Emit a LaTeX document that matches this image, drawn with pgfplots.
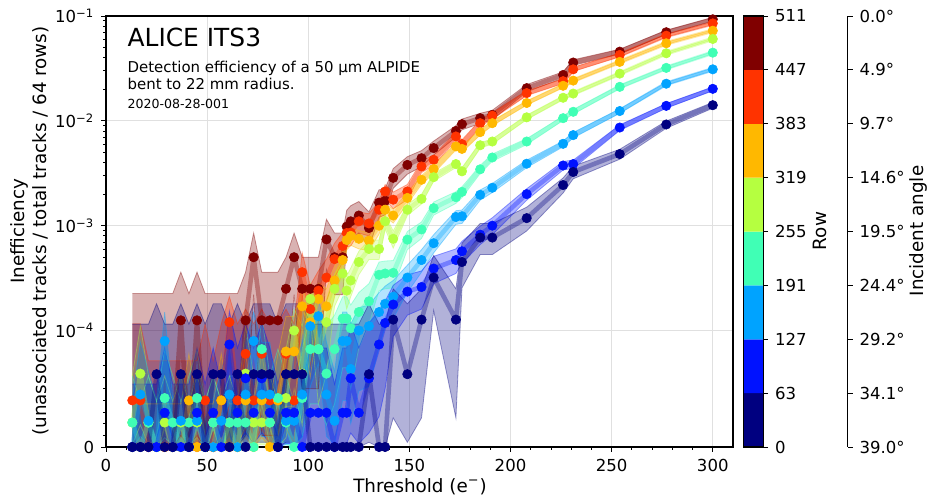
\documentclass[border=0pt]{standalone}
\usepackage{fontspec}
\setmainfont{DejaVu Sans}
\usepackage{pgfplots}
\usepackage{pgfplotstable}
\pgfplotsset{compat=1.18}
\usepgfplotslibrary{fillbetween}

\definecolor{cA}{rgb}{0,0,0.5}
\definecolor{cB}{rgb}{0,0.07,1}
\definecolor{cC}{rgb}{0,0.64,1}
\definecolor{cD}{rgb}{0.25,1,0.71}
\definecolor{cE}{rgb}{0.71,1,0.25}
\definecolor{cF}{rgb}{1,0.72,0}
\definecolor{cG}{rgb}{1,0.2,0}
\definecolor{cH}{rgb}{0.5,0,0}

% rows 447-511
\pgfplotstableread{
x y lo hi
13 0 0 2.25e-4
17 0 0 2.25e-4
21 0 0 2.25e-4
25 0 0 2.25e-4
29 0 0 2.25e-4
33 0 0 2.25e-4
37 1.25e-4 1e-5 3.6e-4
41 0 0 2.25e-4
45 1.25e-4 1e-5 3.6e-4
49 0 0 2.25e-4
53 0 0 2.25e-4
57 0 0 2.25e-4
61 0 0 2.25e-4
65 0 0 2.25e-4
69 1.25e-4 1e-5 3.6e-4
73 5e-4 2.2e-4 8.5e-4
77 1.25e-4 1e-5 3.6e-4
81 1.25e-4 1e-5 3.6e-4
85 1.25e-4 1e-5 3.6e-4
89 2.5e-4 5e-5 5e-4
93 5e-4 2.2e-4 8.5e-4
97 2.5e-4 5e-5 5e-4
101 2.5e-4 5e-5 5e-4
105 2.5e-4 5e-5 5e-4
109 7.4e-4 3.8e-4 1.15e-3
113 5e-4 2.2e-4 8.5e-4
117 5e-4 2.2e-4 8.5e-4
119 9.8e-4 6.3e-4 1.4e-3
121 1.1e-3 7.3e-4 1.55e-3
125 1.25e-3 8.5e-4 1.7e-3
130 9.5e-4 6.2e-4 1.35e-3
135 1.66e-3 1.2e-3 2.2e-3
138 1.73e-3 1.27e-3 2.25e-3
142 2.86e-3 2.27e-3 3.5e-3
149 3.8e-3 3.1e-3 4.55e-3
156 4.4e-3 3.65e-3 5.2e-3
162 5.5e-3 4.7e-3 6.4e-3
173 8.0e-3 7.0e-3 9.0e-3
176 9.3e-3 8.2e-3 1.04e-2
185 1.06e-2 9.45e-3 1.18e-2
191 1.14e-2 1.02e-2 1.26e-2
208 2.05e-2 1.89e-2 2.22e-2
226 2.74e-2 2.55e-2 2.93e-2
231 3.6e-2 3.38e-2 3.82e-2
254 4.57e-2 4.33e-2 4.82e-2
277 7.0e-2 6.7e-2 7.3e-2
300 9.3e-2 8.93e-2 9.67e-2
}\sH

% rows 383-447
\pgfplotstableread{
x y lo hi
13 4e-5 3e-6 1.16e-4
17 4e-5 3e-6 1.16e-4
21 0 0 7.4e-5
25 0 0 7.4e-5
29 0 0 7.4e-5
33 0 0 7.4e-5
37 0 0 7.4e-5
41 0 0 7.4e-5
45 0 0 7.4e-5
49 4e-5 3e-6 1.16e-4
53 0 0 7.4e-5
57 4e-5 3e-6 1.16e-4
61 1.2e-4 3.6e-5 2.1e-4
65 4e-5 3e-6 1.16e-4
69 8e-5 1.6e-5 1.6e-4
73 4e-5 3e-6 1.16e-4
77 8e-5 1.6e-5 1.6e-4
81 4e-5 3e-6 1.16e-4
85 4e-5 3e-6 1.16e-4
89 8e-5 1.6e-5 1.6e-4
93 4e-5 3e-6 1.16e-4
97 3.6e-4 2.2e-4 5.5e-4
101 1.6e-4 7e-5 2.7e-4
105 2.4e-4 1.2e-4 3.7e-4
109 3.2e-4 1.9e-4 4.8e-4
113 4.8e-4 3.2e-4 6.8e-4
117 6.4e-4 4.5e-4 8.6e-4
119 8.5e-4 6.3e-4 1.07e-3
121 8.6e-4 6.4e-4 1.08e-3
125 1.1e-3 8.5e-4 1.35e-3
130 1.05e-3 8.0e-4 1.3e-3
135 1.42e-3 1.13e-3 1.71e-3
138 2.12e-3 1.77e-3 2.47e-3
142 1.77e-3 1.45e-3 2.09e-3
149 2.12e-3 1.77e-3 2.47e-3
156 3.67e-3 3.21e-3 4.13e-3
162 4.25e-3 3.77e-3 4.73e-3
173 7.1e-3 6.45e-3 7.75e-3
176 6.0e-3 5.4e-3 6.6e-3
185 9.5e-3 8.8e-3 1.02e-2
191 1.12e-2 1.04e-2 1.2e-2
208 1.84e-2 1.74e-2 1.94e-2
226 2.39e-2 2.27e-2 2.51e-2
231 3.1e-2 2.96e-2 3.24e-2
254 4.25e-2 4.09e-2 4.41e-2
277 6.49e-2 6.3e-2 6.68e-2
300 8.5e-2 8.27e-2 8.73e-2
}\sG

% rows 319-383
\pgfplotstableread{
x y lo hi
13 0 0 3.7e-5
17 0 0 3.7e-5
21 0 0 3.7e-5
25 0 0 3.7e-5
29 0 0 3.7e-5
33 0 0 3.7e-5
37 0 0 3.7e-5
41 4e-5 8e-6 8e-5
45 0 0 3.7e-5
49 0 0 3.7e-5
53 0 0 3.7e-5
57 4e-5 8e-6 8e-5
61 0 0 3.7e-5
65 0 0 3.7e-5
69 4e-5 8e-6 8e-5
73 0 0 3.7e-5
77 4e-5 8e-6 8e-5
81 0 0 3.7e-5
85 4e-5 8e-6 8e-5
89 8.2e-5 3.5e-5 1.36e-4
93 8.2e-5 3.5e-5 1.36e-4
97 1.7e-4 1.05e-4 2.5e-4
101 1.2e-4 6e-5 1.85e-4
105 2.0e-4 1.3e-4 2.85e-4
109 1.7e-4 1.05e-4 2.5e-4
113 3.0e-4 2.1e-4 4.1e-4
117 4.7e-4 3.6e-4 6.0e-4
119 7.3e-4 5.85e-4 8.75e-4
121 8e-4 6.5e-4 9.5e-4
125 7.5e-4 6e-4 9e-4
130 7.2e-4 5.8e-4 8.6e-4
135 1.0e-3 8.3e-4 1.17e-3
138 1.42e-3 1.22e-3 1.62e-3
142 1.25e-3 1.06e-3 1.44e-3
149 1.84e-3 1.61e-3 2.07e-3
156 2.74e-3 2.47e-3 3.01e-3
162 3.47e-3 3.15e-3 3.79e-3
173 5.7e-3 5.27e-3 6.13e-3
176 5.4e-3 5.0e-3 5.8e-3
185 7.8e-3 7.33e-3 8.27e-3
191 9.5e-3 8.98e-3 1.002e-2
208 1.48e-2 1.415e-2 1.545e-2
226 2.16e-2 2.08e-2 2.24e-2
231 2.42e-2 2.34e-2 2.5e-2
254 3.65e-2 3.55e-2 3.75e-2
277 5.49e-2 5.36e-2 5.62e-2
300 7.24e-2 7.1e-2 7.38e-2
}\sF

% rows 255-319
\pgfplotstableread{
x y lo hi
13 2.1e-5 2e-6 6.1e-5
17 6.3e-5 1.9e-5 1.1e-4
21 2.1e-5 2e-6 6.1e-5
25 0 0 3.9e-5
29 2.1e-5 2e-6 6.1e-5
33 0 0 3.9e-5
37 2.1e-5 2e-6 6.1e-5
41 0 0 3.9e-5
45 2.1e-5 2e-6 6.1e-5
49 0 0 3.9e-5
53 2.1e-5 2e-6 6.1e-5
57 0 0 3.9e-5
61 2.1e-5 2e-6 6.1e-5
65 0 0 3.9e-5
69 6.3e-5 1.9e-5 1.1e-4
73 2.1e-5 2e-6 6.1e-5
77 2.1e-5 2e-6 6.1e-5
81 2.1e-5 2e-6 6.1e-5
85 0 0 3.9e-5
89 4.2e-5 8e-6 8.4e-5
93 1e-4 5e-5 1.6e-4
97 6.3e-5 1.9e-5 1.1e-4
101 2.0e-4 1.3e-4 2.85e-4
105 8.4e-5 3.7e-5 1.4e-4
109 1.2e-4 6.3e-5 1.95e-4
113 2.5e-4 1.7e-4 3.45e-4
117 3.5e-4 2.5e-4 4.6e-4
119 2.4e-4 1.6e-4 3.3e-4
121 3.0e-4 2.1e-4 3.95e-4
125 4.5e-4 3.4e-4 5.7e-4
130 6.0e-4 4.75e-4 7.3e-4
135 6.0e-4 4.75e-4 7.3e-4
138 1.1e-3 9.3e-4 1.27e-3
142 7.5e-4 6.1e-4 8.9e-4
149 1.42e-3 1.25e-3 1.59e-3
156 1.8e-3 1.61e-3 1.99e-3
162 2.9e-3 2.65e-3 3.15e-3
173 3.87e-3 3.58e-3 4.16e-3
176 3.3e-3 3.03e-3 3.57e-3
185 5.85e-3 5.5e-3 6.2e-3
191 6.35e-3 5.99e-3 6.71e-3
208 1.08e-2 1.03e-2 1.13e-2
226 1.66e-2 1.6e-2 1.72e-2
231 1.82e-2 1.76e-2 1.88e-2
254 2.82e-2 2.74e-2 2.9e-2
277 4.41e-2 4.31e-2 4.51e-2
300 6.04e-2 5.93e-2 6.15e-2
}\sE

% rows 191-255
\pgfplotstableread{
x y lo hi
13 2.1e-5 2e-6 6.1e-5
17 0 0 3.9e-5
21 2.1e-5 2e-6 6.1e-5
25 0 0 3.9e-5
29 4.2e-5 8e-6 8.4e-5
33 2.1e-5 2e-6 6.1e-5
37 0 0 3.9e-5
41 2.1e-5 2e-6 6.1e-5
45 4.2e-5 8e-6 8.4e-5
49 0 0 3.9e-5
53 2.1e-5 2e-6 6.1e-5
57 0 0 3.9e-5
61 2.1e-5 2e-6 6.1e-5
65 2.1e-5 2e-6 6.1e-5
69 2.1e-5 2e-6 6.1e-5
73 0 0 3.9e-5
77 8.4e-5 3.7e-5 1.4e-4
81 2.1e-5 2e-6 6.1e-5
85 4.2e-5 8e-6 8.4e-5
89 2.1e-5 2e-6 6.1e-5
93 0 0 3.9e-5
97 4.2e-5 8e-6 8.4e-5
101 8.4e-5 3.7e-5 1.4e-4
105 8.4e-5 3.7e-5 1.4e-4
109 6.3e-5 1.9e-5 1.1e-4
113 8.4e-5 3.7e-5 1.4e-4
117 1.3e-4 6.8e-5 2.1e-4
119 1.3e-4 6.8e-5 2.1e-4
121 1.05e-4 5e-5 1.75e-4
125 1.5e-4 8.5e-5 2.3e-4
130 1.9e-4 1.15e-4 2.8e-4
135 3.4e-4 2.4e-4 4.5e-4
138 3.5e-4 2.5e-4 4.6e-4
142 3.55e-4 2.55e-4 4.65e-4
149 7.36e-4 5.9e-4 8.8e-4
156 9.2e-4 7.55e-4 1.085e-3
162 1.47e-3 1.26e-3 1.68e-3
173 1.87e-3 1.63e-3 2.11e-3
176 2.1e-3 1.85e-3 2.35e-3
185 3.45e-3 3.14e-3 3.76e-3
191 4.47e-3 4.11e-3 4.83e-3
208 6.35e-3 5.93e-3 6.77e-3
226 1.06e-2 1.01e-2 1.11e-2
231 1.22e-2 1.16e-2 1.28e-2
254 2.11e-2 2.03e-2 2.19e-2
277 3.2e-2 3.1e-2 3.3e-2
300 4.47e-2 4.36e-2 4.58e-2
}\sD

% rows 127-191
\pgfplotstableread{
x y lo hi
13 0 0 4.1e-5
17 4.5e-5 9e-6 9e-5
21 2.25e-5 2e-6 6.5e-5
25 0 0 4.1e-5
29 9.1e-5 4e-5 1.5e-4
33 0 0 4.1e-5
37 2.25e-5 2e-6 6.5e-5
41 0 0 4.1e-5
45 2.25e-5 2e-6 6.5e-5
49 0 0 4.1e-5
53 0 0 4.1e-5
57 2.25e-5 2e-6 6.5e-5
61 4.5e-5 9e-6 9e-5
65 0 0 4.1e-5
69 4.5e-5 9e-6 9e-5
73 9.1e-5 4e-5 1.5e-4
77 4.5e-5 9e-6 9e-5
81 4.5e-5 9e-6 9e-5
85 0 0 4.1e-5
89 2.25e-5 2e-6 6.5e-5
93 2.25e-5 2e-6 6.5e-5
97 4.5e-5 9e-6 9e-5
101 1.1e-4 5.2e-5 1.75e-4
105 1.37e-4 7.2e-5 2.15e-4
109 4.5e-5 9e-6 9e-5
113 2.25e-5 2e-6 6.5e-5
117 9.1e-5 4e-5 1.5e-4
119 9.1e-5 4e-5 1.5e-4
121 6.7e-5 2e-5 1.15e-4
125 1.0e-4 4.8e-5 1.65e-4
130 1.1e-4 5.2e-5 1.75e-4
135 1.5e-4 8.5e-5 2.3e-4
138 1.8e-4 1.08e-4 2.65e-4
142 2.1e-4 1.3e-4 3.0e-4
149 3.2e-4 2.3e-4 4.2e-4
156 4.7e-4 3.6e-4 5.9e-4
162 6.8e-4 5.5e-4 8.2e-4
173 1.21e-3 1.03e-3 1.39e-3
176 1.23e-3 1.05e-3 1.41e-3
185 1.97e-3 1.75e-3 2.19e-3
191 2.3e-3 2.07e-3 2.53e-3
208 3.9e-3 3.58e-3 4.22e-3
226 6.04e-3 5.65e-3 6.43e-3
231 7.31e-3 6.87e-3 7.75e-3
254 1.24e-2 1.18e-2 1.3e-2
277 2.26e-2 2.19e-2 2.33e-2
300 3.1e-2 3.01e-2 3.19e-2
}\sC

% rows 63-127
\pgfplotstableread{
x y lo hi
13 0 0 5.4e-5
17 0 0 5.4e-5
21 0 0 5.4e-5
25 0 0 5.4e-5
29 2.94e-5 3e-6 8.5e-5
33 0 0 5.4e-5
37 0 0 5.4e-5
41 0 0 5.4e-5
45 2.94e-5 3e-6 8.5e-5
49 0 0 5.4e-5
53 2.94e-5 3e-6 8.5e-5
57 0 0 5.4e-5
61 8.8e-5 2.6e-5 1.53e-4
65 2.94e-5 3e-6 8.5e-5
69 5.9e-5 1.2e-5 1.18e-4
73 2.94e-5 3e-6 8.5e-5
77 5.9e-5 1.2e-5 1.18e-4
81 2.94e-5 3e-6 8.5e-5
85 0 0 5.4e-5
89 2.94e-5 3e-6 8.5e-5
93 2.94e-5 3e-6 8.5e-5
97 0 0 5.4e-5
101 2.94e-5 3e-6 8.5e-5
105 2.94e-5 3e-6 8.5e-5
109 2.94e-5 3e-6 8.5e-5
113 0 0 5.4e-5
117 2.94e-5 3e-6 8.5e-5
119 2.94e-5 3e-6 8.5e-5
121 5.9e-5 1.2e-5 1.18e-4
125 2.94e-5 3e-6 8.5e-5
130 5.9e-5 1.2e-5 1.18e-4
135 8.8e-5 2.6e-5 1.53e-4
138 1.18e-4 5e-5 1.9e-4
142 1.77e-4 9.5e-5 2.7e-4
149 2.35e-4 1.4e-4 3.4e-4
156 2.6e-4 1.6e-4 3.7e-4
162 3.9e-4 2.8e-4 5.1e-4
173 4.7e-4 3.5e-4 6.0e-4
176 5.7e-4 4.35e-4 7.1e-4
185 8.2e-4 6.6e-4 9.9e-4
191 1.0e-3 8.2e-4 1.19e-3
208 2.0e-3 1.75e-3 2.25e-3
226 3.75e-3 3.4e-3 4.1e-3
231 3.87e-3 3.52e-3 4.22e-3
254 8.63e-3 8.1e-3 9.15e-3
277 1.39e-2 1.32e-2 1.46e-2
300 2.02e-2 1.94e-2 2.1e-2
}\sB

% rows 0-63
\pgfplotstableread{
x y lo hi
13 0 0 1.15e-4
17 0 0 1.15e-4
21 0 0 1.15e-4
25 6.25e-5 4e-6 1.8e-4
29 0 0 1.15e-4
33 0 0 1.15e-4
37 6.25e-5 4e-6 1.8e-4
41 0 0 1.15e-4
45 6.25e-5 4e-6 1.8e-4
49 0 0 1.15e-4
53 6.25e-5 4e-6 1.8e-4
57 6.25e-5 4e-6 1.8e-4
61 0 0 1.15e-4
65 6.25e-5 4e-6 1.8e-4
69 0 0 1.15e-4
73 6.25e-5 4e-6 1.8e-4
77 6.25e-5 4e-6 1.8e-4
81 6.25e-5 4e-6 1.8e-4
85 0 0 1.15e-4
89 6.25e-5 4e-6 1.8e-4
93 6.25e-5 4e-6 1.8e-4
97 6.25e-5 4e-6 1.8e-4
101 0 0 1.15e-4
105 0 0 1.15e-4
109 0 0 1.15e-4
113 0 0 1.15e-4
117 0 0 1.15e-4
119 0 0 1.15e-4
121 0 0 1.15e-4
125 0 0 1.15e-4
130 6.25e-5 4e-6 1.8e-4
135 0 0 1.15e-4
138 0 0 1.15e-4
142 1.27e-4 2.5e-5 2.5e-4
149 6.25e-5 4e-6 1.8e-4
156 1.27e-4 2.5e-5 2.5e-4
162 3.2e-4 1.55e-4 5.2e-4
173 1.27e-4 2.5e-5 2.5e-4
176 4.5e-4 2.55e-4 6.8e-4
185 7.7e-4 5.3e-4 1.05e-3
191 7.7e-4 5.3e-4 1.05e-3
208 1.18e-3 8.9e-4 1.5e-3
226 2.44e-3 2.05e-3 2.85e-3
231 3.25e-3 2.8e-3 3.7e-3
254 4.82e-3 4.3e-3 5.35e-3
277 9.23e-3 8.5e-3 9.95e-3
300 1.41e-2 1.32e-2 1.5e-2
}\sA

\newcommand{\drawband}[2]{%
  \addplot[draw=#2, draw opacity=0.4, line width=0.4bp, name path=lo#2, forget plot] table[x=x,y=lo]{#1};
  \addplot[draw=#2, draw opacity=0.4, line width=0.4bp, name path=hi#2, forget plot] table[x=x,y=hi]{#1};
  \addplot[fill=#2, fill opacity=0.3, draw=none, forget plot] fill between[of=lo#2 and hi#2];
}
\newcommand{\drawline}[2]{%
  \addplot[draw=#2, draw opacity=0.35, line width=2.3bp, line join=round, forget plot] table[x=x,y=y]{#1};
}
\newcommand{\drawmarks}[2]{%
  \addplot[color=#2, only marks, mark=*, mark size=2.35bp, mark options={solid, draw=#2, fill=#2, line width=0.3bp}, forget plot] table[x=x,y=y]{#1};
}

\begin{document}
\begin{tikzpicture}
\path (0,0) rectangle (465.5bp,248.5bp);
\begin{axis}[
  at={(53bp,25bp)}, anchor=south west,
  scale only axis, width=313.5bp, height=215.5bp,
  xmin=0, xmax=310, ymin=-5.111111, ymax=-1,
  % symmetric-log y scale: linear below 1e-4, logarithmic above
  y filter/.expression={y<0.0001 ? 11111.111*y-5.111111 : ln(max(y,0.000001))*0.4342945},
  xtick={0,50,...,300}, minor x tick num=4,
  ytick={-5.111111,-4,-3,-2,-1},
  yticklabels={0,10\textsuperscript{−4},10\textsuperscript{−3},10\textsuperscript{−2},10\textsuperscript{−1}},
  minor ytick={-5.0,-4.888889,-4.777778,-4.666667,-4.555556,-4.444444,-4.333333,-4.222222,-4.111111,
    -3.69897,-3.52288,-3.39794,-3.30103,-3.22185,-3.15490,-3.09691,-3.04576,
    -2.69897,-2.52288,-2.39794,-2.30103,-2.22185,-2.15490,-2.09691,-2.04576,
    -1.69897,-1.52288,-1.39794,-1.30103,-1.22185,-1.15490,-1.09691,-1.04576},
  grid=major, major grid style={black!12, line width=0.5bp},
  tick pos=left, tick align=outside,
  major tick length=2.4bp, minor tick length=1.4bp,
  every tick/.style={black, line width=0.4bp},
  axis line style={line width=0.6bp},
  tick label style={font=\fontsize{8.3}{10}\selectfont},
  /pgf/number format/assume math mode=true,
]
\drawband{\sH}{cH}
\drawband{\sG}{cG}
\drawband{\sF}{cF}
\drawband{\sE}{cE}
\drawband{\sD}{cD}
\drawband{\sC}{cC}
\drawband{\sB}{cB}
\drawband{\sA}{cA}
\drawline{\sH}{cH}
\drawline{\sG}{cG}
\drawline{\sF}{cF}
\drawline{\sE}{cE}
\drawline{\sD}{cD}
\drawline{\sC}{cC}
\drawline{\sB}{cB}
\drawline{\sA}{cA}
\drawmarks{\sH}{cH}
\drawmarks{\sG}{cG}
\drawmarks{\sF}{cF}
\drawmarks{\sE}{cE}
\drawmarks{\sD}{cD}
\drawmarks{\sC}{cC}
\drawmarks{\sB}{cB}
\drawmarks{\sA}{cA}
\end{axis}

% colour bar
\begin{axis}[
  at={(371.65bp,25bp)}, anchor=south west,
  scale only axis, width=10bp, height=215.5bp,
  xmin=0, xmax=1, ymin=0, ymax=8,
  xtick=\empty, ytick={0,...,8},
  yticklabels={0,63,127,191,255,319,383,447,511},
  ytick pos=right, yticklabel pos=right, tick align=outside,
  major tick length=2.4bp,
  every tick/.style={black, line width=0.4bp},
  axis line style={line width=0.6bp},
  tick label style={font=\fontsize{8.3}{10}\selectfont},
  axis on top,
]
\addplot[fill=cA, draw=none] coordinates {(0,0) (1,0) (1,1) (0,1) (0,0)};
\addplot[fill=cB, draw=none] coordinates {(0,1) (1,1) (1,2) (0,2) (0,1)};
\addplot[fill=cC, draw=none] coordinates {(0,2) (1,2) (1,3) (0,3) (0,2)};
\addplot[fill=cD, draw=none] coordinates {(0,3) (1,3) (1,4) (0,4) (0,3)};
\addplot[fill=cE, draw=none] coordinates {(0,4) (1,4) (1,5) (0,5) (0,4)};
\addplot[fill=cF, draw=none] coordinates {(0,5) (1,5) (1,6) (0,6) (0,5)};
\addplot[fill=cG, draw=none] coordinates {(0,6) (1,6) (1,7) (0,7) (0,6)};
\addplot[fill=cH, draw=none] coordinates {(0,7) (1,7) (1,8) (0,8) (0,7)};
\end{axis}

% incident angle axis
\begin{axis}[
  at={(423.85bp,25bp)}, anchor=south east,
  scale only axis, width=1bp, height=215.5bp,
  xmin=0, xmax=1, ymin=0, ymax=8,
  hide x axis, axis y line*=right,
  ytick={0,...,8},
  yticklabels={39.0°,34.1°,29.2°,24.4°,19.5°,14.6°,9.7°,4.9°,0.0°},
  tick align=outside, major tick length=2.4bp,
  every tick/.style={black, line width=0.4bp},
  axis line style={line width=0.6bp},
  tick label style={font=\fontsize{8.3}{10}\selectfont},
]
\addplot[draw=none] coordinates {(0,0) (1,8)};
\end{axis}

\node[rotate=90, inner sep=0pt, font=\fontsize{9.2}{11}\selectfont] at (410bp,133bp) {Row};
\node[rotate=90, inner sep=0pt, font=\fontsize{9.2}{11}\selectfont] at (459bp,133bp) {Incident angle};
\node[rotate=90, inner sep=0pt, align=center, font=\fontsize{9.2}{11}\selectfont] at (14.8bp,133bp) {Inefficiency\\(unassociated tracks / total tracks / 64 rows)};
\node[anchor=base, inner sep=0pt, font=\fontsize{9.2}{11}\selectfont] at (210bp,2.5bp) {Threshold (e\textsuperscript{−})};
\node[anchor=base west, inner sep=0pt, font=\fontsize{12.5}{15}\selectfont] at (63.6bp,225.1bp) {ALICE ITS3};
\node[anchor=base west, font=\fontsize{7.5}{9}\selectfont, inner sep=0pt] at (63.6bp,212.2bp) {Detection efficiency of a 50 µm ALPIDE};
\node[anchor=base west, font=\fontsize{7.5}{9}\selectfont, inner sep=0pt] at (63.6bp,203.5bp) {bent to 22 mm radius.};
\node[anchor=base west, font=\fontsize{6.3}{8}\selectfont, inner sep=0pt] at (63.6bp,194.3bp) {2020-08-28-001};
\end{tikzpicture}
\end{document}
